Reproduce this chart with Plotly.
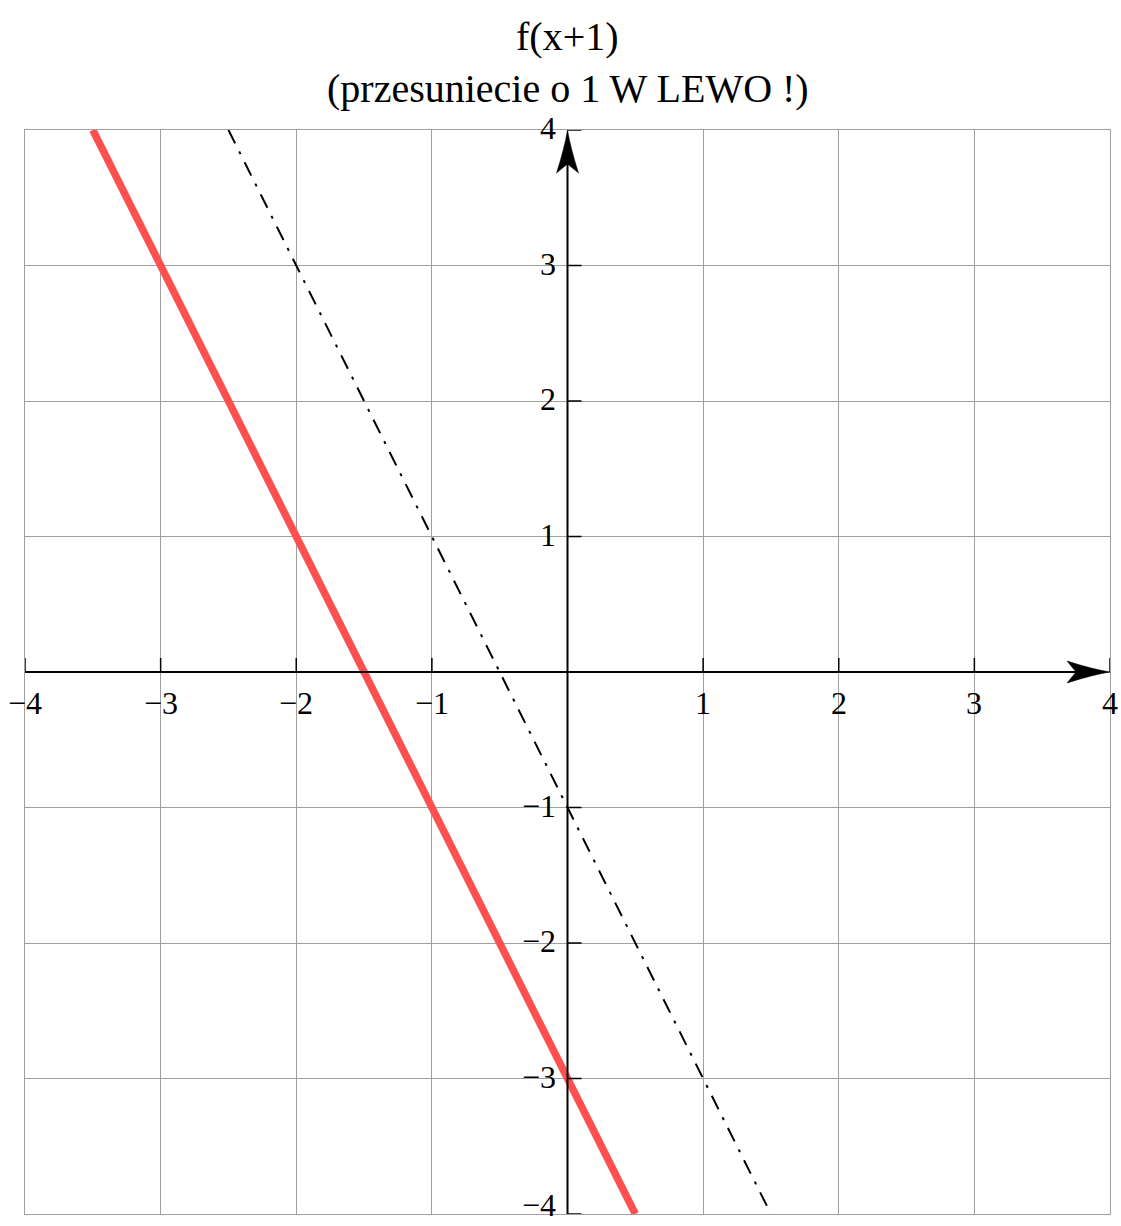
import plotly.graph_objects as go

# Plot window and integer tick positions
x_range = [-4, 4]
y_range = [-4, 4]
x_ticks = [-4, -3, -2, -1, 1, 2, 3, 4]
y_ticks = [-4, -3, -2, -1, 1, 2, 3, 4]
x_tick_labels = ["\u22124", "\u22123", "\u22122", "\u22121", "1", "2", "3", "4"]
y_tick_labels = ["\u22124", "\u22123", "\u22122", "\u22121", "1", "2", "3", "4"]

# f(x+1): shifted line (red)
shifted_x = [-3.5, -3, -2, -1, 0, 0.5]
shifted_y = [4, 3, 1, -1, -3, -4]

# f(x): original line (dash-dot)
orig_x = [-2.5, -2, -1, 0, 1, 1.5]
orig_y = [4, 3, 1, -1, -3, -4]

title_lines = ["f(x+1)", "(przesuniecie o 1 W LEWO !)"]

SERIF = "Liberation Serif, Times New Roman, serif"
GRID = "#a0a0a0"

fig = go.Figure()

fig.add_trace(go.Scatter(
    x=orig_x, y=orig_y, mode="lines",
    line=dict(color="black", width=2, dash="15px,9px,3px,9px"),
    hoverinfo="skip", showlegend=False,
))
fig.add_trace(go.Scatter(
    x=shifted_x, y=shifted_y, mode="lines",
    line=dict(color="#ff5050", width=7.5),
    hoverinfo="skip", showlegend=False,
))

shapes = []
# axes through the origin
shapes.append(dict(type="line", xref="x", yref="y", x0=x_range[0], x1=x_range[1] - 0.2,
                   y0=0, y1=0, line=dict(color="black", width=2), layer="above"))
shapes.append(dict(type="line", xref="x", yref="y", x0=0, x1=0,
                   y0=y_range[0], y1=y_range[1] - 0.2, line=dict(color="black", width=2), layer="above"))

# arrowheads at the positive ends of both axes (pixel-sized, anchored to the axis end)
head_x = "M 0,0 Q -18,3 -43,11 L -34,0 L -43,-11 Q -18,-3 0,0 Z"
head_y = "M 0,0 Q 3,-18 11,-43 L 0,-34 L -11,-43 Q -3,-18 0,0 Z"
shapes.append(dict(type="path", xref="x", yref="y", xsizemode="pixel", ysizemode="pixel",
                   xanchor=x_range[1], yanchor=0, path=head_x,
                   fillcolor="black", line=dict(color="black", width=0.5), layer="above"))
shapes.append(dict(type="path", xref="x", yref="y", xsizemode="pixel", ysizemode="pixel",
                   xanchor=0, yanchor=y_range[1], path=head_y,
                   fillcolor="black", line=dict(color="black", width=0.5), layer="above"))

# tick marks on the axes
for v in x_ticks:
    shapes.append(dict(type="line", xref="x", yref="y", ysizemode="pixel", yanchor=0,
                       x0=v, x1=v, y0=0, y1=14, line=dict(color="black", width=1.5), layer="above"))
for v in y_ticks:
    shapes.append(dict(type="line", xref="x", yref="y", xsizemode="pixel", xanchor=0,
                       x0=0, x1=14, y0=v, y1=v, line=dict(color="black", width=1.5), layer="above"))

annotations = []
for v, t in zip(x_ticks, x_tick_labels):
    annotations.append(dict(x=v, y=0, xref="x", yref="y", text=t, showarrow=False,
                            xanchor="center", yanchor="middle", yshift=-31,
                            font=dict(family=SERIF, size=32, color="black")))
for v, t in zip(y_ticks, y_tick_labels):
    # the lowest label sits against the bottom edge, so anchor it by its bottom
    if v == y_range[0]:
        anchor, shift = "bottom", -11
    else:
        anchor, shift = "middle", 2
    annotations.append(dict(x=0, y=v, xref="x", yref="y", text=t, showarrow=False,
                            xanchor="right", yanchor=anchor, xshift=-10, yshift=shift,
                            font=dict(family=SERIF, size=32, color="black")))

annotations.append(dict(x=0.5, y=1.0858, xref="paper", yref="paper", text=title_lines[0],
                        showarrow=False, xanchor="center", yanchor="middle",
                        font=dict(family=SERIF, size=40, color="black")))
annotations.append(dict(x=0.5, y=1.0387, xref="paper", yref="paper", text=title_lines[1],
                        showarrow=False, xanchor="center", yanchor="middle",
                        font=dict(family=SERIF, size=40, color="black")))

fig.update_layout(
    width=1121, height=1226,
    margin=dict(l=25, r=11, t=130, b=12),
    paper_bgcolor="white", plot_bgcolor="white",
    shapes=shapes, annotations=annotations,
    showlegend=False,
)
fig.update_xaxes(range=x_range, dtick=1, tick0=0, showgrid=True, gridcolor=GRID, gridwidth=1,
                 zeroline=False, showticklabels=False, ticks="",
                 showline=True, linecolor=GRID, linewidth=1, mirror=True)
fig.update_yaxes(range=y_range, dtick=1, tick0=0, showgrid=True, gridcolor=GRID, gridwidth=1,
                 zeroline=False, showticklabels=False, ticks="",
                 showline=True, linecolor=GRID, linewidth=1, mirror=True)

fig.write_html("out.html")
